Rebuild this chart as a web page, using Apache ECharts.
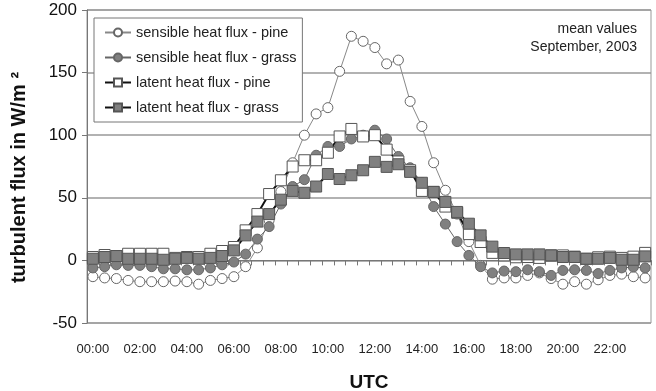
<!DOCTYPE html>
<html>
<head>
<meta charset="utf-8">
<script src="https://cdn.jsdelivr.net/npm/echarts@6/dist/echarts.min.js"></script>
<style>
  html, body { margin: 0; padding: 0; background: #fff; }
  #chart { width: 656px; height: 391px; }
</style>
</head>
<body>
<div id="chart"></div>
<script>
// half-hourly categories 00:00 .. 23:30
var times = [
    '00:00','00:30','01:00','01:30','02:00','02:30','03:00','03:30',
    '04:00','04:30','05:00','05:30','06:00','06:30','07:00','07:30',
    '08:00','08:30','09:00','09:30','10:00','10:30','11:00','11:30',
    '12:00','12:30','13:00','13:30','14:00','14:30','15:00','15:30',
    '16:00','16:30','17:00','17:30','18:00','18:30','19:00','19:30',
    '20:00','20:30','21:00','21:30','22:00','22:30','23:00','23:30'
];

var sensiblePine = [
    -13, -14, -14.5, -16, -17, -17, -17, -16.5, -17, -19, -16, -14.5,
    -13, -5, 10, 32, 55, 78, 100, 117, 122, 151, 179, 175,
    170, 157, 160, 127, 107, 78, 56, 37, 15, -4, -15, -14,
    -14, -12, -10, -14.5, -19, -17, -19, -15.5, -12, -11, -13, -14
];
var sensibleGrass = [
    -6, -5, -3.5, -4, -4, -5, -6.7, -6.7, -7.5, -7.5, -6, -3.5,
    -1.3, 5, 17, 27, 45, 59, 64.5, 84, 91, 91, 97, 100,
    104, 97, 83, 74, 62, 43, 29, 15, 4, -5, -10, -8.5,
    -9, -7.5, -9, -12, -8, -7.5, -8, -10.5, -8, -6, -5.3, -6
];
var latentPine = [
    2.7, 4.3, 3.5, 5.3, 5.3, 5.3, 5.3, 2, 2.7, 2.7, 5.3, 7.5,
    10.7, 24, 37, 53, 64, 75, 80, 80, 86, 99, 105, 99,
    100, 88.5, 79, 72, 55.5, 54.7, 43, 38, 21, 14.7, 6, 4,
    2.5, 2.7, 2, 4, 4, 3, 1.3, 2.5, 3, 2, 3, 6
];
var latentGrass = [
    1.3, 2.7, 3.5, 1.3, 1.3, 1.3, 0.5, 1.3, 2, 1.3, 2, 3.5,
    8, 20, 31, 37, 48.5, 55.5, 54, 59, 69, 65, 68, 72,
    78.7, 74.7, 76.8, 70.7, 62, 54.7, 46.7, 38.7, 29.3, 20, 11, 5.9,
    4.8, 4.8, 4.8, 4, 2.7, 2.7, 1.3, 1.3, 2, 0.5, 0.5, 3.2
];

var seriesNames = [
    'sensible heat flux - pine',
    'sensible heat flux - grass',
    'latent heat flux - pine',
    'latent heat flux - grass'
];

var noteLines = ['mean values', 'September, 2003'];

var FONT = '"Liberation Sans", Arial, sans-serif';

var myChart = echarts.init(document.getElementById('chart'));

function lineSeries(name, data, symbol, size, fill, lineColor, lineWidth, borderColor) {
    return {
        name: name,
        type: 'line',
        data: data,
        symbol: symbol,
        symbolSize: size,
        showAllSymbol: true,
        animation: false,
        lineStyle: { color: lineColor, width: lineWidth },
        itemStyle: { color: fill, borderColor: borderColor, borderWidth: 1 }
    };
}

var option = {
    backgroundColor: '#fff',
    textStyle: { fontFamily: FONT },
    // note in the upper right corner
    graphic: noteLines.map(function (t, i) {
        return {
            type: 'text',
            right: 19,
            top: 22 + i * 18,
            style: {
                text: t,
                fontFamily: FONT,
                fontSize: 14,
                fill: '#222',
                textAlign: 'right'
            }
        };
    }),
    legend: {
        orient: 'vertical',
        left: 94,
        top: 18,
        padding: [7, 6, 7, 10],
        itemGap: 10,
        itemWidth: 26,
        itemHeight: 10,
        backgroundColor: '#fff',
        borderColor: '#777',
        borderWidth: 1,
        textStyle: { fontFamily: FONT, fontSize: 14.5, color: '#222' },
        data: seriesNames
    },
    grid: {
        left: 87,
        right: 5,
        top: 10,
        bottom: 68,
        outerBoundsMode: 'none',
        show: true,
        borderColor: '#999',
        borderWidth: 1
    },
    xAxis: {
        type: 'category',
        data: times,
        boundaryGap: true,
        name: 'UTC',
        nameLocation: 'middle',
        nameGap: 50,
        nameTextStyle: { fontFamily: FONT, fontSize: 19, fontWeight: 'bold', color: '#111' },
        axisLine: { lineStyle: { color: '#777', width: 1 } },
        axisTick: { show: true, interval: 0, length: 5, lineStyle: { color: '#777' } },
        axisLabel: { interval: 3, margin: 20, fontSize: 13, color: '#222', fontFamily: FONT },
        splitLine: { show: false }
    },
    yAxis: {
        type: 'value',
        min: -50,
        max: 200,
        interval: 50,
        name: 'turbulent flux in W/m ²',
        nameLocation: 'middle',
        nameGap: 58,
        nameTextStyle: {
            fontFamily: FONT, fontSize: 20, fontWeight: 'bold', color: '#111',
            padding: [0, 22, 0, 0]
        },
        axisLine: { show: true, lineStyle: { color: '#777', width: 1 } },
        axisTick: { show: true, length: 5, lineStyle: { color: '#777' } },
        axisLabel: { fontSize: 17, color: '#111', margin: 10, fontFamily: FONT },
        splitLine: { show: true, lineStyle: { color: '#999', width: 1.5 } }
    },
    series: [
        lineSeries(seriesNames[0], sensiblePine, 'circle', 10, '#fff', '#888', 1, '#666'),
        lineSeries(seriesNames[1], sensibleGrass, 'circle', 10, '#808080', '#666', 1, '#666'),
        lineSeries(seriesNames[2], latentPine, 'rect', 11, '#fff', '#111', 2, '#555'),
        lineSeries(seriesNames[3], latentGrass, 'rect', 11, '#808080', '#111', 2, '#555')
    ]
};

myChart.setOption(option);
</script>
</body>
</html>
